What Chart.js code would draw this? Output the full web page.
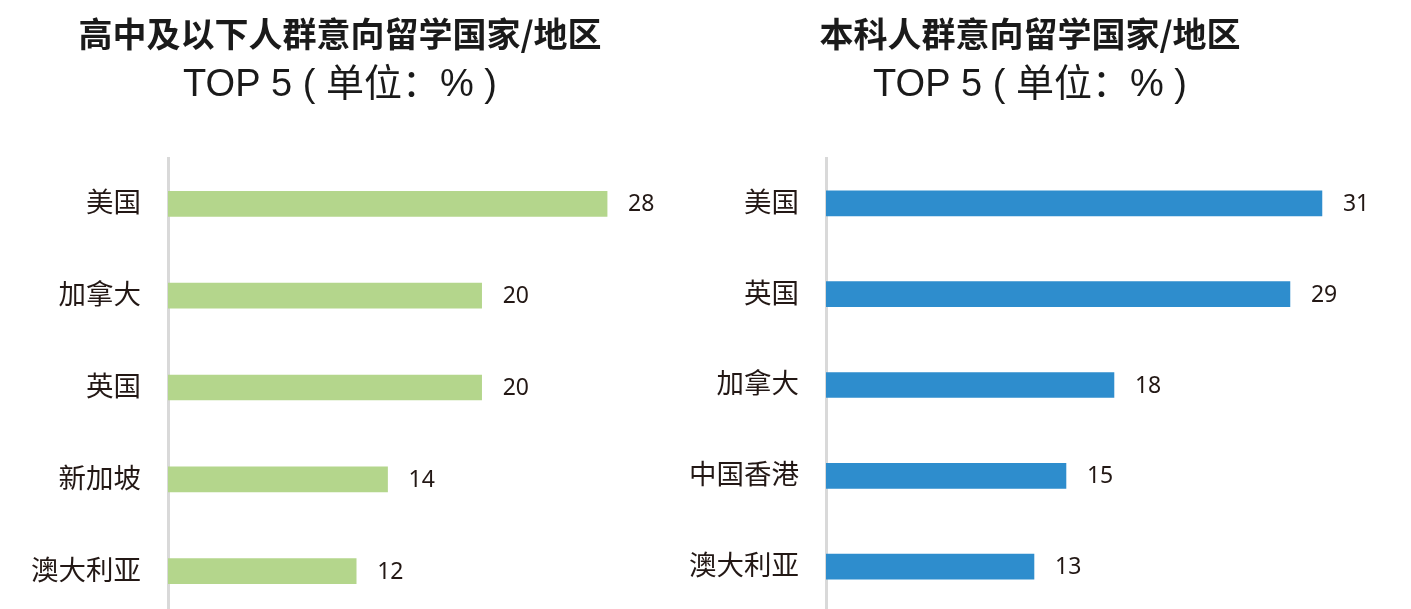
<!DOCTYPE html>
<html>
<head>
<meta charset="utf-8">
<script src="https://cdn.jsdelivr.net/npm/chart.js@4.4.1/dist/chart.umd.min.js"></script>
<style>
  html, body { margin: 0; padding: 0; background: #fff; overflow: hidden; }
  #wrap { position: relative; width: 1411px; height: 609px; overflow: hidden; }
  canvas { position: absolute; top: 0; }
  #left-chart { left: 0; }
  #right-chart { left: 680px; }
</style>
</head>
<body>
<div id="wrap">
  <canvas id="left-chart" width="680" height="620"></canvas>
  <canvas id="right-chart" width="700" height="620"></canvas>
</div>
<script>
// 高中及以下
const paysLycee = ['美国', '加拿大', '英国', '新加坡', '澳大利亚'];
const valeursLycee = [28, 20, 20, 14, 12];
// 本科
const paysLicence = ['美国', '英国', '加拿大', '中国香港', '澳大利亚'];
const valeursLicence = [31, 29, 18, 15, 13];

const titreLycee = '高中及以下人群意向留学国家/地区';
const titreLicence = '本科人群意向留学国家/地区';
const sousTitre = 'TOP 5 ( 单位：% )';

// étiquettes de valeur au bout des barres
const etiquettes = {
    id: 'etiquettes',
    afterDatasetsDraw(chart) {
        const ctx = chart.ctx;
        const meta = chart.getDatasetMeta(0);
        ctx.save();
        ctx.font = '23px "Noto Sans"';
        ctx.fillStyle = '#231815';
        ctx.textAlign = 'left';
        ctx.textBaseline = 'middle';
        meta.data.forEach(function (bar, i) {
            ctx.fillText(chart.data.datasets[0].data[i], bar.x + 21, bar.y + 1);
        });
        ctx.restore();
    }
};

function barres(id, labels, data, couleur, titre, largeurAxe, maxX, padBas) {
    return new Chart(document.getElementById(id), {
        type: 'bar',
        data: {
            labels: labels,
            datasets: [{
                data: data,
                backgroundColor: couleur,
                barThickness: 25
            }]
        },
        options: {
            responsive: false,
            animation: false,
            indexAxis: 'y',
            layout: { padding: { top: 0, right: 0, bottom: padBas, left: 0 } },
            plugins: {
                legend: { display: false },
                tooltip: { enabled: false },
                title: {
                    display: true,
                    text: titre,
                    color: '#1a1a1a',
                    font: { family: '"Noto Sans CJK SC"', size: 34, weight: 'bold' },
                    padding: { top: 14, bottom: 0 }
                },
                subtitle: {
                    display: true,
                    text: sousTitre,
                    color: '#1a1a1a',
                    font: { family: '"Liberation Sans", "Noto Sans CJK SC"', size: 38, weight: 'normal' },
                    padding: { top: 8.4, bottom: 49.2 }
                }
            },
            scales: {
                x: {
                    display: false,
                    min: 0,
                    max: maxX
                },
                y: {
                    grid: { display: false, drawTicks: false },
                    border: { display: true, color: '#d9d9d9', width: 3 },
                    ticks: {
                        color: '#231815',
                        padding: 27,
                        labelOffset: -2,
                        font: { family: '"Noto Sans CJK SC"', size: 27.5 }
                    },
                    afterFit: function (scale) {
                        scale.width = largeurAxe;
                        scale.paddingTop = 0;
                        scale.paddingBottom = 0;
                    }
                }
            }
        },
        plugins: [etiquettes]
    });
}

barres('left-chart', paysLycee, valeursLycee, '#b4d68c', titreLycee, 168, 32.65, 3);
barres('right-chart', paysLicence, valeursLicence, '#2e8dcd', titreLicence, 146, 34.63, 8);
</script>
</body>
</html>
